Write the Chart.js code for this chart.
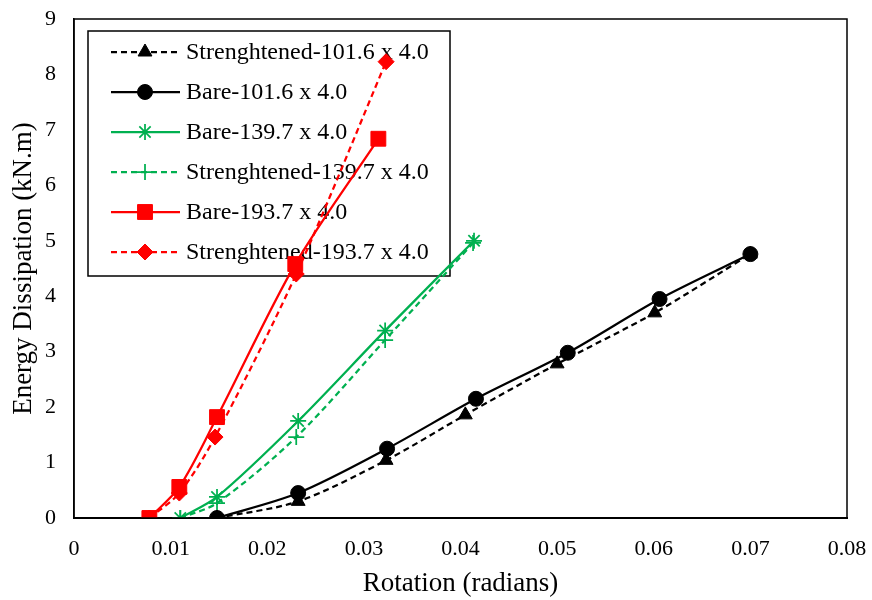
<!DOCTYPE html>
<html>
<head>
<meta charset="utf-8">
<script src="https://cdn.jsdelivr.net/npm/chart.js@4.4.0/dist/chart.umd.js"></script>
<style>
  html, body { margin: 0; padding: 0; background: #fff; }
  #wrap { width: 872px; height: 600px; position: relative; }
</style>
</head>
<body>
<div id="wrap"><canvas id="c" width="872" height="600"></canvas></div>
<script>
// values
const seriesNames = ['Strenghtened-101.6 x 4.0', 'Bare-101.6 x 4.0', 'Bare-139.7 x 4.0',
                     'Strenghtened-139.7 x 4.0', 'Bare-193.7 x 4.0', 'Strenghtened-193.7 x 4.0'];

const str101X = [0.0148, 0.0232, 0.0323, 0.0405, 0.0500, 0.0601, 0.0700];
const str101Y = [0, 0.30, 1.04, 1.86, 2.78, 3.70, 4.76];
const bare101X = [0.0148, 0.0232, 0.0324, 0.0416, 0.0511, 0.0606, 0.0700];
const bare101Y = [0, 0.45, 1.25, 2.15, 2.98, 3.95, 4.76];
const bare139X = [0.0110, 0.0148, 0.0232, 0.0322, 0.0414];
const bare139Y = [0, 0.38, 1.75, 3.38, 5.00];
const str139X = [0.0110, 0.0148, 0.0230, 0.0322, 0.0413];
const str139Y = [0, 0.27, 1.46, 3.21, 4.96];
const bare193X = [0.0078, 0.0109, 0.0148, 0.0229, 0.0315];
const bare193Y = [0, 0.56, 1.82, 4.58, 6.84];
const str193X = [0.0078, 0.0109, 0.0146, 0.0230, 0.0323];
const str193Y = [0, 0.45, 1.46, 4.40, 8.23];

const xTicksMax = 0.08, yTicksMax = 9;

const RED = '#ff0000', GREEN = '#00b050', BLACK = '#000000';
const FONT = '"Liberation Serif", "Times New Roman", serif';

function pts(xs, ys) { return xs.map((x, i) => ({ x, y: ys[i] })); }

function ds(i, xs, ys, color, style, radius, dashed) {
    return {
        label: seriesNames[i], data: pts(xs, ys),
        borderColor: color, backgroundColor: color, borderWidth: 2.25,
        borderDash: dashed ? [6, 4] : [], tension: 0.3,
        pointStyle: style, pointRadius: radius, pointBorderColor: color,
        pointBackgroundColor: color, pointBorderWidth: style === 'star' || style === 'cross' ? 1.75 : 1,
        pointHoverRadius: radius,
    };
}

const datasets = [
    ds(0, str101X, str101Y, BLACK, 'triangle', 8, true),
    ds(1, bare101X, bare101Y, BLACK, 'circle', 7.5, false),
    ds(2, bare139X, bare139Y, GREEN, 'star', 8, false),
    ds(3, str139X, str139Y, GREEN, 'cross', 8, true),
    ds(4, bare193X, bare193Y, RED, 'rect', 10.5, false),
    ds(5, str193X, str193Y, RED, 'rectRot', 8, true),
];

// no label overhang padding: keep the plot frame where the reference has it
function noPad(s) { s.paddingLeft = 0; s.paddingRight = 0; s.paddingTop = 0; s.paddingBottom = 0; }

// legend box drawn inside the plot, under the data lines
const boxLegend = {
    id: 'boxLegend',
    beforeDatasetsDraw(chart) {
        const ctx = chart.ctx;
        const bx = 88, by = 31, bw = 362, bh = 245;
        ctx.save();
        ctx.fillStyle = '#fff';
        ctx.fillRect(bx, by, bw, bh);
        ctx.strokeStyle = '#000';
        ctx.lineWidth = 1.5;
        ctx.strokeRect(bx, by, bw, bh);
        ctx.font = '24px ' + FONT;
        ctx.textBaseline = 'middle';
        chart.data.datasets.forEach((d, i) => {
            const y = 52 + i * 40;
            ctx.strokeStyle = d.borderColor;
            ctx.lineWidth = 2.25;
            ctx.setLineDash(d.borderDash);
            ctx.beginPath(); ctx.moveTo(111, y); ctx.lineTo(180, y); ctx.stroke();
            ctx.setLineDash([]);
            ctx.fillStyle = d.borderColor;
            ctx.lineWidth = d.pointBorderWidth;
            Chart.helpers.drawPoint(ctx, { pointStyle: d.pointStyle, radius: d.pointRadius,
                                          rotation: 0, borderWidth: d.pointBorderWidth }, 145, y);
            ctx.fillStyle = '#000';
            ctx.fillText(d.label, 186, y + 1);
        });
        ctx.restore();
    },
    afterDraw(chart) {
        const a = chart.chartArea, ctx = chart.ctx;
        ctx.save();
        ctx.strokeStyle = '#000';
        ctx.lineWidth = 1.5;
        ctx.strokeRect(a.left, a.top, a.right - a.left, a.bottom - a.top);
        ctx.restore();
    }
};

new Chart(document.getElementById('c'), {
    type: 'line',
    data: { datasets },
    options: {
        responsive: false, animation: false,
        layout: { padding: { top: 19, right: 25, left: 0, bottom: 0 } },
        plugins: { legend: { display: false }, tooltip: { enabled: false } },
        scales: {
            x: {
                type: 'linear', min: 0, max: xTicksMax,
                grid: { display: false },
                border: { display: true, color: '#000', width: 2 },
                ticks: { stepSize: 0.01, color: '#000', padding: 10, maxRotation: 0,
                         font: { family: FONT, size: 22 },
                         callback: (v) => String(+v.toFixed(2)) },
                title: { display: true, text: 'Rotation (radians)', color: '#000',
                         font: { family: FONT, size: 27 }, padding: { top: 12, bottom: 0 } },
                afterFit: (s) => { s.height = 82; noPad(s); },
            },
            y: {
                min: 0, max: yTicksMax,
                grid: { display: false },
                border: { display: true, color: '#000', width: 1.5 },
                ticks: { stepSize: 1, color: '#000', padding: 10,
                         font: { family: FONT, size: 22 } },
                title: { display: true, text: 'Energy Dissipation (kN.m)', color: '#000',
                         font: { family: FONT, size: 27 }, padding: { top: 8, bottom: 0 } },
                afterFit: (s) => { s.width = 74; noPad(s); },
            },
        },
    },
    plugins: [boxLegend],
});
</script>
</body>
</html>
